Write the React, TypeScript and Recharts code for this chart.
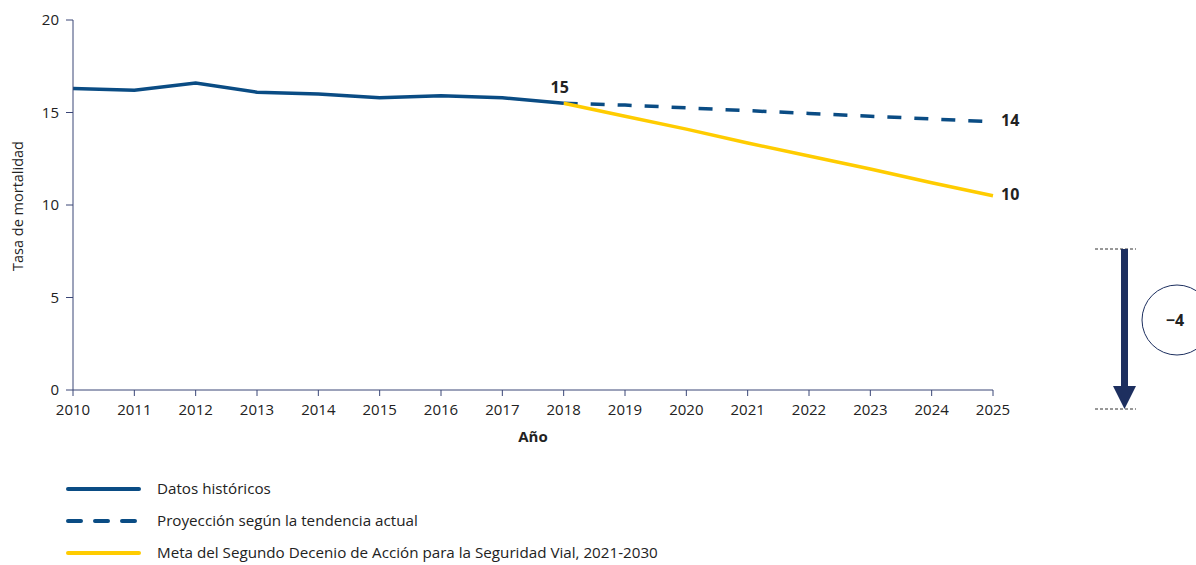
import React from "react";
import { LineChart, Line, XAxis, YAxis, Customized } from "recharts";

const years = [2010, 2011, 2012, 2013, 2014, 2015, 2016, 2017, 2018, 2019, 2020, 2021, 2022, 2023, 2024, 2025];
const historical = [16.3, 16.2, 16.6, 16.1, 16.0, 15.8, 15.9, 15.8, 15.5];
const projection = [15.5, 15.4, 15.25, 15.1, 14.95, 14.8, 14.65, 14.5];
const target = [15.5, 14.8, 14.1, 13.35, 12.65, 11.95, 11.2, 10.5];
const yTicks = [0, 5, 10, 15, 20];
const endLabels = { historical: "15", projection: "14", target: "10" };
const seriesNames = [
  "Datos históricos",
  "Proyección según la tendencia actual",
  "Meta del Segundo Decenio de Acción para la Seguridad Vial, 2021-2030",
];
const changeLabel = "\u22124";
const yTitle = "Tasa de mortalidad";
const xTitle = "Año";

const BLUE = "#0a4c84";
const YELLOW = "#ffcc00";
const NAVY = "#1d2f5f";
const AXIS = "#3a4677";
const FONT = "'Open Sans', sans-serif";

const projStart = historical.length - 1;
const data = years.map((year, i) => ({
  year,
  historical: i < historical.length ? historical[i] : null,
  projection: i >= projStart ? projection[i - projStart] : null,
  target: i >= projStart ? target[i - projStart] : null,
}));

const lastIdx = years.length - 1;

const makeEndLabel = (text: string, atIndex: number, dx: number, dy: number, anchor: string) =>
  (props: any) => {
    if (props.index !== atIndex) return null;
    return (
      <text
        key={"lbl" + atIndex + text}
        x={props.x + dx}
        y={props.y + dy}
        textAnchor={anchor}
        dominantBaseline="middle"
        fontFamily={FONT}
        fontWeight={700}
        fontSize={16}
        fill="#222"
      >
        {text}
      </text>
    );
  };

const Annotations = () => (
  <g>
    <text
      transform="translate(19,206) rotate(-90)"
      textAnchor="middle"
      dominantBaseline="middle"
      fontFamily={FONT}
      fontSize={14.5}
      fill="#222"
    >
      {yTitle}
    </text>
    <text x={533} y={438} textAnchor="middle" dominantBaseline="middle" fontFamily={FONT} fontWeight={700} fontSize={15} fill="#222">
      {xTitle}
    </text>
    <line x1={1095} x2={1136} y1={249} y2={249} stroke="#333" strokeWidth={1} strokeDasharray="3 2" />
    <line x1={1095} x2={1136} y1={409} y2={409} stroke="#333" strokeWidth={1} strokeDasharray="3 2" />
    <rect x={1121} y={249} width={7} height={140} fill={NAVY} />
    <polygon points="1113,386 1136,386 1124.5,409" fill={NAVY} />
    <circle cx={1177} cy={320} r={35} fill="#fff" stroke={NAVY} strokeWidth={1} />
    <text x={1175} y={322} textAnchor="middle" dominantBaseline="middle" fontFamily={FONT} fontWeight={700} fontSize={16} fill="#222">
      {changeLabel}
    </text>
    {seriesNames.map((name, i) => {
      const y = 489 + i * 32;
      return (
        <g key={name}>
          <line
            x1={68}
            x2={139}
            y1={y}
            y2={y}
            stroke={i === 2 ? YELLOW : BLUE}
            strokeWidth={4}
            strokeLinecap="round"
            strokeDasharray={i === 1 ? "13 14" : undefined}
          />
          <text x={157} y={y + 1} dominantBaseline="middle" fontFamily={FONT} fontSize={15.2} fill="#222">
            {name}
          </text>
        </g>
      );
    })}
  </g>
);

export default function App() {
  return (
    <div style={{ position: "absolute", left: 0, top: 0, width: 1196, height: 565, background: "#fff", overflow: "hidden" }}>
      <LineChart width={1196} height={565} data={data} margin={{ top: 20, right: 203, left: 13, bottom: 115 }}>
        <XAxis
          dataKey="year"
          interval={0}
          stroke={AXIS}
          tickLine={{ stroke: AXIS }}
          tickSize={6}
          tickMargin={8}
          tick={{ fontFamily: FONT, fontSize: 15, fill: "#222" }}
          height={60}
        />
        <YAxis
          domain={[0, 20]}
          ticks={yTicks}
          width={60}
          stroke={AXIS}
          tickSize={7}
          tickMargin={7}
          tick={{ fontFamily: FONT, fontSize: 15, fill: "#222" }}
        />
        <Line
          dataKey="projection"
          stroke={BLUE}
          strokeWidth={3.5}
          strokeDasharray="14 13"
          dot={false}
          isAnimationActive={false}
          connectNulls={false}
          label={makeEndLabel(endLabels.projection, lastIdx, 8, 0, "start")}
        />
        <Line
          dataKey="target"
          stroke={YELLOW}
          strokeWidth={3.5}
          dot={false}
          isAnimationActive={false}
          label={makeEndLabel(endLabels.target, lastIdx, 8, 0, "start")}
        />
        <Line
          dataKey="historical"
          stroke={BLUE}
          strokeWidth={3.5}
          dot={false}
          isAnimationActive={false}
          label={makeEndLabel(endLabels.historical, projStart, -4, -15, "middle")}
        />
        <Customized component={Annotations} />
      </LineChart>
    </div>
  );
}
